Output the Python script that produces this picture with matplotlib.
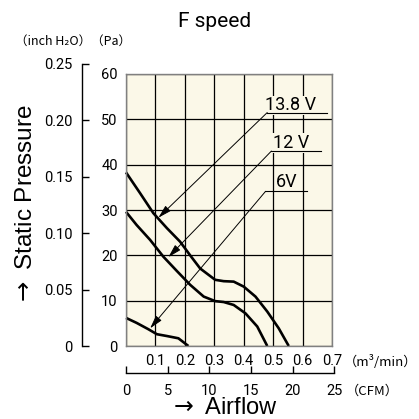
import numpy as np
import matplotlib.pyplot as plt

# P-Q curves, airflow in m3/min, static pressure in Pa
x_138 = [0.0, 0.048, 0.093, 0.139, 0.184, 0.218, 0.252, 0.303, 0.332, 0.366, 0.40, 0.44, 0.48, 0.519, 0.553]
y_138 = [38.3, 33.7, 29.3, 26.0, 23.0, 20.0, 17.1, 14.6, 14.3, 14.2, 13.1, 10.9, 7.6, 3.9, 0.0]
x_12 = [0.0, 0.036, 0.082, 0.127, 0.172, 0.218, 0.264, 0.303, 0.332, 0.366, 0.406, 0.446, 0.48]
y_12 = [29.6, 26.7, 23.4, 19.7, 16.6, 13.5, 10.9, 9.9, 9.7, 9.05, 7.2, 4.3, 0.0]
x_6 = [0.0, 0.036, 0.076, 0.105, 0.139, 0.178, 0.212]
y_6 = [6.2, 5.1, 3.7, 2.6, 2.2, 1.7, 0.0]

# label, label pos, leader start, arrow tip, leader end
labels = ["13.8 V", "12 V", "6V"]
label_xy = [(0.474, 52.0), (0.50, 43.7), (0.508, 35.0)]
leader_start = [(0.48, 51.5), (0.494, 43.0), (0.474, 34.1)]
leader_end = [(0.682, 51.5), (0.664, 43.0), (0.615, 34.1)]
arrow_tip = [(0.11, 28.3), (0.144, 19.6), (0.082, 3.9)]

pa_ticks = [0, 10, 20, 30, 40, 50, 60]
m3_ticks = [0.1, 0.2, 0.3, 0.4, 0.5, 0.6, 0.7]
inch_ticks = [0, 0.05, 0.10, 0.15, 0.20, 0.25]
inch_labels = ["0", "0.05", "0.10", "0.15", "0.20", "0.25"]
cfm_ticks = [0, 5, 10, 15, 20, 25]

W = 419.0
num = "Roboto"
sans = ["Liberation Sans", "DejaVu Sans"]
jp = ["Noto Sans CJK JP", "DejaVu Sans"]
face = "#fbf8e8"

fig = plt.figure(figsize=(4.19, 4.19), dpi=100)

def box(l, t, r, b):
    return [l / W, (W - b) / W, (r - l) / W, (b - t) / W]

ax = fig.add_axes(box(126, 74, 332, 346))
ax.set_facecolor(face)
ax.set_xlim(0, 0.7)
ax.set_ylim(0, 60)
ax.set_yticks(pa_ticks)
ax.set_xticks(np.arange(0, 0.71, 0.1))
ax.set_xticklabels([""] + ["%.1f" % v for v in m3_ticks])
ax.grid(True, color="black", lw=0.9)
ax.tick_params(length=0, labelsize=10.5, pad=6)
for t in ax.get_xticklabels() + ax.get_yticklabels():
    t.set_fontfamily(num)
for s in ax.spines.values():
    s.set_color("#808080")
    s.set_linewidth(1.0)

ax.plot(x_138, y_138, color="black", lw=1.9, solid_capstyle="butt", clip_on=False)
ax.plot(x_12, y_12, color="black", lw=1.9, solid_capstyle="butt", clip_on=False)
ax.plot(x_6, y_6, color="black", lw=1.9, solid_capstyle="butt", clip_on=False)

for lab, lxy, s, e, tip in zip(labels, label_xy, leader_start, leader_end, arrow_tip):
    ax.text(lxy[0], lxy[1], lab, fontfamily=num, fontsize=13, ha="left", va="baseline",
            bbox=dict(facecolor=face, edgecolor="none", pad=0.5), zorder=4)
    ax.plot([s[0], e[0]], [s[1], e[1]], color="black", lw=0.8, zorder=5)
    ax.annotate("", xy=tip, xytext=s,
                arrowprops=dict(arrowstyle="-|>,head_length=0.8,head_width=0.22", color="black", lw=0.7,
                                mutation_scale=10, shrinkA=0, shrinkB=0), zorder=5)

# inch H2O scale
ax2 = fig.add_axes(box(82, 346 - 282.3, 83, 346))
ax2.set_ylim(0, 0.25)
ax2.set_xticks([])
ax2.set_yticks(inch_ticks)
ax2.set_yticklabels(inch_labels)
ax2.patch.set_visible(False)
for k in ["top", "right", "bottom"]:
    ax2.spines[k].set_visible(False)
ax2.spines["left"].set_linewidth(1.0)
ax2.tick_params(axis="y", direction="in", length=5, width=1.0, labelsize=10.5, pad=7)
for t in ax2.get_yticklabels():
    t.set_fontfamily(num)

# CFM scale
ax3 = fig.add_axes(box(126, 372, 126 + 0.7079 / 0.7 * 206, 373.3))
ax3.set_xlim(0, 25)
ax3.set_yticks([])
ax3.set_xticks(cfm_ticks)
ax3.patch.set_visible(False)
for k in ["top", "right", "left"]:
    ax3.spines[k].set_visible(False)
ax3.spines["bottom"].set_linewidth(1.0)
ax3.tick_params(axis="x", direction="in", length=5, width=1.0, labelsize=10.5, pad=8)
for t in ax3.get_xticklabels():
    t.set_fontfamily(num)

fig.text(215 / W, (W - 26.7) / W, "F speed", fontfamily=num, fontsize=15, ha="center", va="baseline")
fig.text(15 / W, (W - 45) / W, "（inch H₂O）（Pa）", family=jp, fontsize=9, ha="left", va="baseline")
fig.text(344 / W, (W - 361.7) / W, "（m³/min）", family=jp, fontsize=9.5, ha="left", va="center")
fig.text(346 / W, (W - 391.7) / W, "（CFM）", family=jp, fontsize=9.5, ha="left", va="center")
fig.text(223 / W, (W - 414) / W, "$\\rightarrow$ Airflow", family=sans, fontsize=17, ha="center", va="baseline")
fig.text(32 / W, (W - 205) / W, "$\\rightarrow$ Static Pressure", family=sans, fontsize=17.5,
         rotation=90, rotation_mode="anchor", ha="center", va="baseline")

fig.savefig("out.png", dpi=100)
